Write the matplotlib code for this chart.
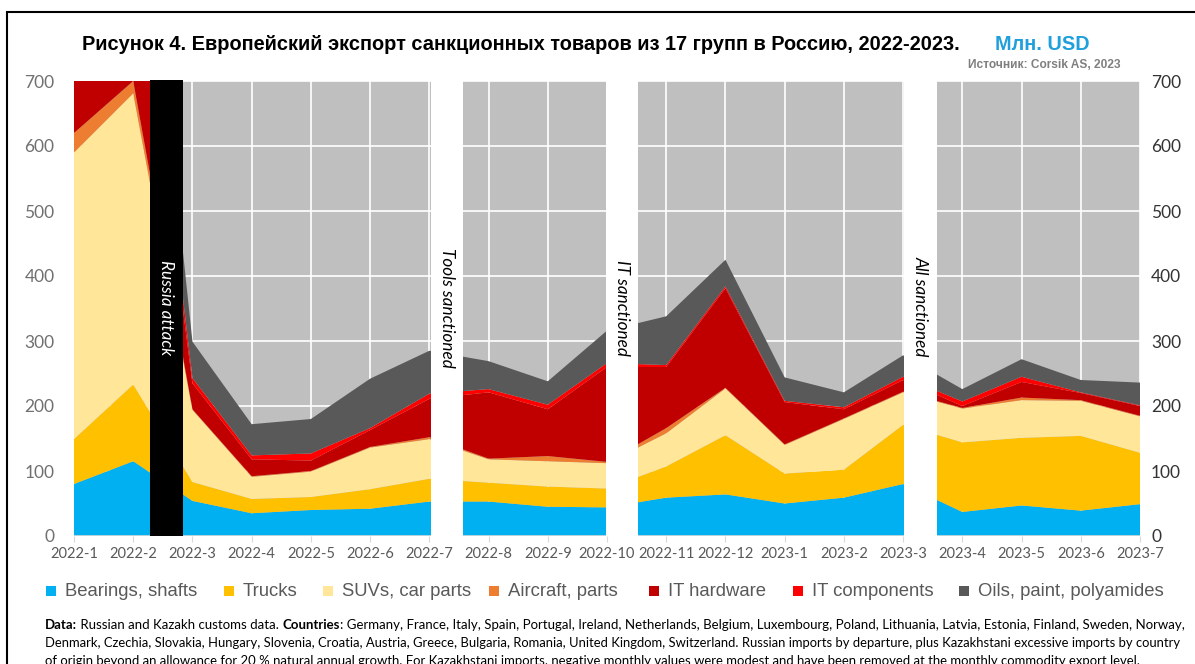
import matplotlib
matplotlib.use('Agg')
import matplotlib.pyplot as plt
import numpy as np
from matplotlib.patches import Rectangle

months = ['2022-1', '2022-2', '2022-3', '2022-4', '2022-5', '2022-6', '2022-7',
          '2022-8', '2022-9', '2022-10', '2022-11', '2022-12', '2023-1', '2023-2',
          '2023-3', '2023-4', '2023-5', '2023-6', '2023-7']
bearings = [80, 115, 54, 35, 40, 42, 53, 53, 45, 44, 59, 64, 50, 59, 80, 37, 47, 39, 49]
trucks = [69, 118, 29, 22, 20, 30, 35, 29, 31, 29, 48, 91, 46, 43, 91, 107, 104, 115, 79]
suvs = [441, 448, 111, 34, 39, 64, 61, 36, 39, 39, 51, 72, 44, 78, 50, 52, 58, 54, 56]
aircraft = [30, 19, 1, 1, 1, 1, 3, 1, 8, 2, 8, 1, 1, 1, 1, 1, 4, 1, 1]
it_hardware = [200, 240, 40, 26, 16, 26, 59, 102, 72, 146, 94, 153, 65, 14, 18, 3, 24, 11, 15]
it_components = [30, 72, 8, 6, 11, 3, 8, 5, 7, 6, 3, 3, 2, 3, 5, 7, 8, 1, 1]
oils = [120, 150, 56, 48, 53, 76, 66, 43, 36, 50, 75, 41, 36, 23, 33, 19, 27, 19, 35]

series_names = ['Bearings, shafts', 'Trucks', 'SUVs, car parts', 'Aircraft, parts',
                'IT hardware', 'IT components', 'Oils, paint, polyamides']
colors = ['#00B0F0', '#FFC000', '#FFE699', '#ED7D31', '#C00000', '#FF0000', '#595959']

# event bands (in category-index units)
black_band = (1.28, 1.84, 'Russia attack')
white_bands = [(6.03, 6.57, 'Tools sanctioned'),
               (8.99, 9.53, 'IT sanctioned'),
               (14.01, 14.58, 'All sanctioned')]

W, H = 1195, 664
fig = plt.figure(figsize=(W / 100, H / 100), dpi=100)
fig.patch.set_facecolor('white')

def fx(px):
    return px / W

def fy(py):
    return 1 - py / H

ax = fig.add_axes([fx(74), fy(536), fx(1140) - fx(74), fy(81) - fy(536)])
ax.set_facecolor('#BFBFBF')
x = np.arange(len(months))
ax.stackplot(x, bearings, trucks, suvs, aircraft, it_hardware, it_components, oils,
             colors=colors, linewidth=0, zorder=2)
ax.set_xlim(0, len(months) - 1)
ax.set_ylim(0, 700)
ax.set_yticks(range(0, 701, 100))
ax.set_xticks(x)
ax.set_xticklabels(months)
ax.grid(True, color='white', linewidth=1.2, zorder=1)
ax.set_axisbelow(True)
for s in ax.spines.values():
    s.set_visible(False)
ax.axhline(0, color='#D9D9D9', lw=1.2, zorder=3)
ax.tick_params(axis='x', length=4, color='#D9D9D9', pad=4, labelsize=10.5,
               labelcolor='#595959')
ax.tick_params(axis='y', length=0, pad=14, labelsize=12.5, labelcolor='#707070')
for lab in ax.get_xticklabels() + ax.get_yticklabels():
    lab.set_family('Lato')

ax2 = ax.twinx()
ax2.set_ylim(0, 700)
ax2.set_yticks(range(0, 701, 100))
for s in ax2.spines.values():
    s.set_visible(False)
ax2.tick_params(axis='y', length=0, pad=8, labelsize=12.5, labelcolor='#333333')
for lab in ax2.get_yticklabels():
    lab.set_family('Lato')

# bands
x0, x1, lbl = black_band
ax.add_patch(Rectangle((x0, 0), x1 - x0, 702, facecolor='black', edgecolor='none',
                       zorder=5, clip_on=False))
ax.text((x0 + x1) / 2, 425, lbl, rotation=-90, ha='center', va='top', color='white',
        fontsize=12.3, style='italic', family='Lato', zorder=6)
label_tops = {'Tools sanctioned': 443, 'IT sanctioned': 425, 'All sanctioned': 430}
for (b0, b1, lbl) in white_bands:
    ax.add_patch(Rectangle((b0, 0), b1 - b0, 700, facecolor='white', edgecolor='none',
                           zorder=5, clip_on=False))
    ax.text((b0 + b1) / 2, label_tops[lbl], lbl, rotation=-90,
            ha='center', va='top', color='black', fontsize=12.3, style='italic',
            family='Lato', zorder=6)

# title
fig.text(fx(82), fy(45), 'Рисунок 4. Европейский экспорт санкционных товаров из 17 групп в Россию, 2022-2023.',
         ha='left', va='center', fontsize=14.4, fontweight='bold', family='Liberation Sans',
         color='black')
fig.text(fx(995), fy(45), 'Млн. USD', ha='left', va='center', fontsize=14.3,
         fontweight='bold', family='Liberation Sans', color='#1F9FDB')
fig.text(fx(1120), fy(65), 'Источник: Corsik AS, 2023', ha='right', va='center',
         fontsize=8.6, fontweight='bold', family='Liberation Sans', color='#7F7F7F')

# legend
leg_sq = [51, 229, 328, 494, 654, 798, 964]
for px, name, c in zip(leg_sq, series_names, colors):
    fig.patches.append(Rectangle((fx(px - 5), fy(596)), fx(10), 10 / H, facecolor=c,
                                 edgecolor='none', transform=fig.transFigure, figure=fig))
    fig.text(fx(px + 14), fy(591), name, ha='left', va='center', fontsize=13.3,
             family='Liberation Sans', color='#595959')

# footer
lines = [
    [('Data:', 'bold'), (' Russian and Kazakh customs data. ', 'normal'), ('Countries', 'bold'),
     (': Germany, France, Italy, Spain, Portugal, Ireland, Netherlands, Belgium, Luxembourg, Poland, Lithuania, Latvia, Estonia, Finland, Sweden, Norway,', 'normal')],
    [('Denmark, Czechia, Slovakia, Hungary, Slovenia, Croatia, Austria, Greece, Bulgaria, Romania, United Kingdom, Switzerland. Russian imports by departure, plus Kazakhstani excessive imports by country', 'normal')],
    [('of origin beyond an allowance for 20 % natural annual growth. For Kazakhstani imports, negative monthly values were modest and have been removed at the monthly commodity export level.', 'normal')],
]
line_y = [625, 643, 661]
line_w = [1138, 1140, 1105]
fs = 9.0
all_texts = []
for parts, yy in zip(lines, line_y):
    row = []
    for i, (txt, wt) in enumerate(parts):
        t = fig.text(fx(45), fy(yy), txt, ha='left', va='center', fontsize=fs,
                     fontweight=wt, family='Lato', color='black')
        row.append(t)
    all_texts.append(row)

fig.canvas.draw()
r = fig.canvas.get_renderer()
for rr, target in zip(all_texts, line_w):
    w = sum(t.get_window_extent(r).width for t in rr)
    for t in rr:
        t.set_fontsize(fs * target / w)
fig.canvas.draw()
for rr in all_texts:
    for i in range(1, len(rr)):
        bb = rr[i - 1].get_window_extent(r)
        rr[i].set_position((bb.x1 / W, rr[0].get_position()[1]))
    fig.canvas.draw()

# frame
fig.patches.append(Rectangle((fx(7), -0.05), 1.1, fy(12) + 0.05, facecolor='none',
                             edgecolor='black', linewidth=1.5, transform=fig.transFigure,
                             figure=fig))

fig.savefig('out.png', dpi=100)
